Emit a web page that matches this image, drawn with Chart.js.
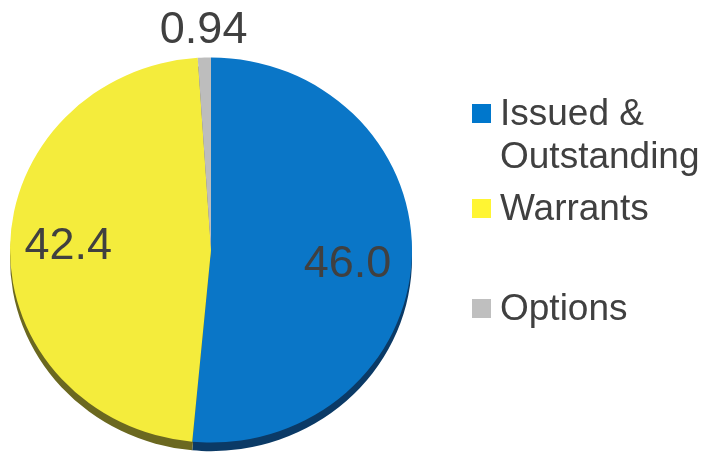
<!DOCTYPE html>
<html>
<head>
<meta charset="utf-8">
<script src="https://cdn.jsdelivr.net/npm/chart.js@4/dist/chart.umd.min.js"></script>
<style>
  html, body { margin: 0; padding: 0; background: #fff; }
  #wrap { width: 703px; height: 453px; position: relative; }
</style>
</head>
<body>
<div id="wrap"><canvas id="shareChart"></canvas></div>
<script>
// Categories and values (millions of shares)
var categories = [['Issued &', 'Outstanding'], 'Warrants', 'Options'];
var values = [46.0, 42.4, 0.94];
var valueLabels = ['46.0', '42.4', '0.94'];

// Colours
var sliceColors = ['#0a76c7', '#f4ec3c', '#bdbdbd'];
var rimColors = ['#0b3a66', '#6b6820', '#6e6e6e'];
var legendColors = ['#0077cc', '#fff533', '#bfbfbf'];

var textColor = '#404040';
var squash = 0.958; // pie in the picture is slightly tilted
var rimDepth = 9;

function squashAround(ctx, cy) {
    ctx.translate(0, cy);
    ctx.scale(1, squash);
    ctx.translate(0, -cy);
}

var tiltPlugin = {
    id: 'tilt',
    beforeDatasetsDraw: function (chart) {
        var ctx = chart.ctx;
        var meta = chart.getDatasetMeta(0);
        var cy = meta.data[0].y;
        // darker rim under the pie
        ctx.save();
        squashAround(ctx, cy);
        ctx.translate(0, rimDepth);
        meta.data.forEach(function (arc, i) {
            var bg = arc.options.backgroundColor;
            arc.options.backgroundColor = rimColors[i];
            arc.draw(ctx);
            arc.options.backgroundColor = bg;
        });
        ctx.restore();
        ctx.save();
        squashAround(ctx, cy);
    },
    afterDatasetsDraw: function (chart) {
        chart.ctx.restore();
    }
};

var labelPlugin = {
    id: 'sliceLabels',
    afterDraw: function (chart) {
        var ctx = chart.ctx;
        var meta = chart.getDatasetMeta(0);
        var total = values.reduce(function (a, b) { return a + b; }, 0);
        // small hand nudges so labels sit where the original put them
        var nudge = [[-4, 8], [-2, -2], [0, -6]];
        ctx.save();
        ctx.fillStyle = textColor;
        ctx.font = '45px "Liberation Sans", Arial, sans-serif';
        ctx.textAlign = 'center';
        ctx.textBaseline = 'middle';
        meta.data.forEach(function (arc, i) {
            var mid = (arc.startAngle + arc.endAngle) / 2;
            var f = values[i] / total < 0.05 ? 1.11 : 0.7;
            var x = arc.x + Math.cos(mid) * arc.outerRadius * f + nudge[i][0];
            var y = arc.y + Math.sin(mid) * arc.outerRadius * f * squash + nudge[i][1];
            ctx.fillText(valueLabels[i], x, y);
        });

        // legend on the right
        var lx = 472, box = 19, baselines = [125, 220, 320], lineGap = 43;
        ctx.font = '37px "Liberation Sans", Arial, sans-serif';
        ctx.textAlign = 'left';
        ctx.textBaseline = 'alphabetic';
        categories.forEach(function (cat, i) {
            var lines = Array.isArray(cat) ? cat : [cat];
            var b = baselines[i];
            ctx.fillStyle = legendColors[i];
            ctx.fillRect(lx, b - 21, box, box);
            ctx.fillStyle = textColor;
            lines.forEach(function (t, k) {
                ctx.fillText(t, lx + 28, b + k * lineGap);
            });
        });
        ctx.restore();
    }
};

var ctx = document.getElementById('shareChart');

var shareChart = new Chart(ctx, {
    type: 'pie',
    data: {
        labels: categories.map(function (c) { return Array.isArray(c) ? c.join(' ') : c; }),
        datasets: [{
            data: values,
            backgroundColor: sliceColors,
            borderWidth: 0
        }]
    },
    options: {
        responsive: true,
        maintainAspectRatio: false,
        animation: false,
        layout: { padding: { left: 10, right: 291, top: 49, bottom: 2 } },
        plugins: {
            legend: { display: false },
            tooltip: { enabled: false }
        }
    },
    plugins: [tiltPlugin, labelPlugin]
});
</script>
</body>
</html>
